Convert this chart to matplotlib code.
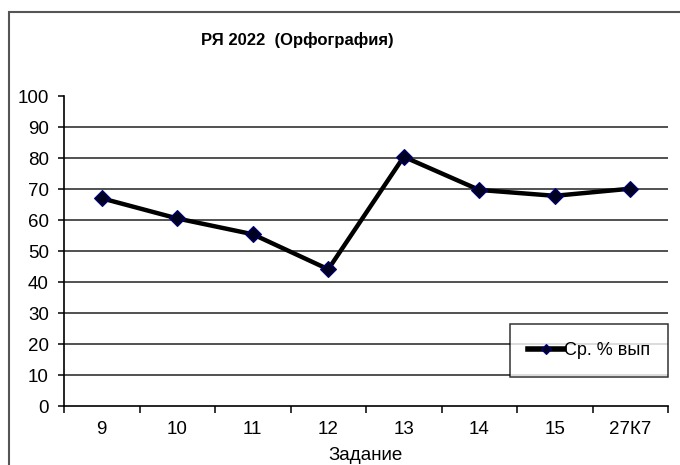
import matplotlib
matplotlib.use("Agg")
import matplotlib.pyplot as plt
from matplotlib.patches import Rectangle
import numpy as np

plt.rcParams['font.family'] = ['Liberation Sans', 'DejaVu Sans']

categories = ["9", "10", "11", "12", "13", "14", "15", "27К7"]
values = [67.0, 60.5, 55.4, 44.1, 80.4, 69.7, 67.8, 70.1]
series_name = "Ср. % вып"
title = "РЯ 2022  (Орфография)"
xlabel = "Задание"
yticks = list(range(0, 101, 10))

fig = plt.figure(figsize=(6.8, 4.65), dpi=100)
fig.patch.set_facecolor("white")

# outer chart frame
fig.add_artist(Rectangle((9/680, -0.1), 1.2, 1 - 12/465 + 0.1,
                         transform=fig.transFigure, fill=False,
                         edgecolor="#555555", linewidth=1.5))

ax = fig.add_axes([64/680, 1 - 406/465, 604/680, 310/465])
x = np.arange(len(categories))
ax.set_xlim(-0.5, len(categories) - 0.5)
ax.set_ylim(0, 100)

for t in yticks[1:-1]:
    ax.axhline(t, color="#222222", linewidth=1.1, zorder=1)

ax.plot(x, values, color="black", linewidth=3.2, zorder=3,
        marker="D", markersize=8.5, markerfacecolor="#000022",
        markeredgecolor="#000080", markeredgewidth=0.8, label=series_name)

ax.spines['top'].set_visible(False)
ax.spines['right'].set_visible(False)
ax.spines['left'].set_linewidth(1.2)
ax.spines['bottom'].set_linewidth(1.2)

ax.set_yticks(yticks)
ax.set_yticklabels([str(t) for t in yticks])
ax.tick_params(axis='y', direction='out', length=4, width=1.1, pad=7, labelsize=13.5)

ax.set_xticks(np.arange(-0.5, len(categories), 1.0))
ax.set_xticklabels([])
ax.set_xticks(x, minor=True)
ax.set_xticklabels(categories, minor=True)
ax.tick_params(axis='x', which='major', direction='out', length=5, width=1.1)
ax.tick_params(axis='x', which='minor', length=0, pad=11, labelsize=13.5)

ax.set_xlabel(xlabel, fontsize=13.5, labelpad=6)

fig.text(297/680, 1 - 40/465, title, ha="center", va="center",
         fontsize=12, fontweight="bold")

leg = ax.legend(loc="upper left", bbox_to_anchor=(510/680, 1 - 324/465),
                bbox_transform=fig.transFigure, fontsize=13, frameon=True,
                fancybox=False, edgecolor="black", borderpad=1.0,
                handlelength=2.0, handletextpad=0.0, borderaxespad=0)
leg.get_frame().set_linewidth(1.1)
for h in leg.legend_handles:
    h.set_markersize(5)
    h.set_linewidth(4)

fig.savefig("out.png", dpi=100)
